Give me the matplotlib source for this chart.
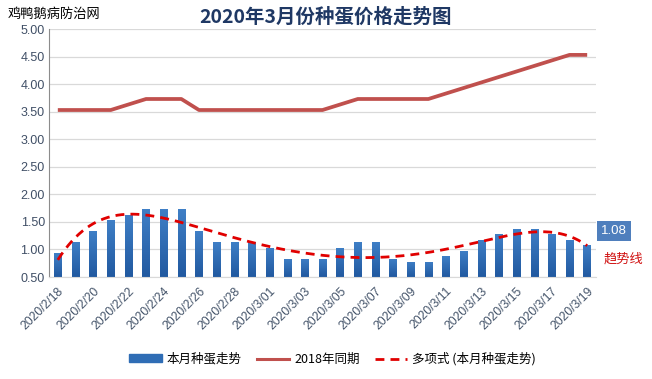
import numpy as np
import matplotlib
matplotlib.use("Agg")
import matplotlib.pyplot as plt
from matplotlib.lines import Line2D
from matplotlib.patches import Patch
from matplotlib.colors import LinearSegmentedColormap

plt.rcParams['font.family'] = ['Noto Sans CJK SC', 'DejaVu Sans']

dates = (["2020/2/%d" % d for d in range(18, 30)] +
         ["2020/3/%02d" % d for d in range(1, 20)])
tick_labels = dates

this_month = [0.93, 1.13, 1.33, 1.53, 1.63, 1.73, 1.73, 1.73, 1.33, 1.13,
              1.13, 1.13, 1.03, 0.83, 0.83, 0.83, 1.03, 1.13, 1.13, 0.83,
              0.78, 0.78, 0.88, 0.98, 1.18, 1.28, 1.38, 1.38, 1.28, 1.18, 1.08]
same_2018 = [3.53, 3.53, 3.53, 3.53, 3.63, 3.73, 3.73, 3.73, 3.53, 3.53,
             3.53, 3.53, 3.53, 3.53, 3.53, 3.53, 3.63, 3.73, 3.73, 3.73,
             3.73, 3.73, 3.83, 3.93, 4.03, 4.13, 4.23, 4.33, 4.43, 4.53, 4.53]

label_bar = "本月种蛋走势"
label_2018 = "2018年同期"
label_trend = "多项式 (本月种蛋走势)"

fig = plt.figure(figsize=(6.52, 3.79), dpi=100)
ax = fig.add_axes([49/652, 1-277/379, (596-49)/652, (277-29)/379])

x = np.arange(1, len(this_month) + 1)
bar_color = "#2f6db5"
bars = ax.bar(x, this_month, width=0.42, color=bar_color, zorder=2)

ax.set_xlim(0.5, len(this_month) + 0.5)
ax.set_ylim(0.5, 5.0)

cmap = LinearSegmentedColormap.from_list("bg", ["#2159a0", "#3f7fc6"])
grad = np.linspace(0, 1, 64).reshape(-1, 1)
for b in bars:
    x0, w, h = b.get_x(), b.get_width(), b.get_height()
    im = ax.imshow(grad, cmap=cmap, origin='lower', aspect='auto',
                   extent=(x0, x0 + w, 0.5, h), zorder=2.1, interpolation='bilinear')
    im.set_clip_path(b)
ax.set_xlim(0.5, len(this_month) + 0.5)
ax.set_ylim(0.5, 5.0)

ax.plot(x, same_2018, color="#c0504d", lw=2.7, zorder=3, solid_capstyle='butt')

coef = np.polyfit(x, this_month, 6)
xs = np.linspace(1, len(this_month), 300)
ax.plot(xs, np.polyval(coef, xs), color="#e00000", lw=2.0, ls=(0, (3.2, 2.2)), zorder=4)

ax.set_yticks(np.arange(0.5, 5.01, 0.5))
ax.set_yticklabels(["%.2f" % v for v in np.arange(0.5, 5.01, 0.5)],
                   fontsize=9, color="#404f66", family=['Liberation Sans', 'DejaVu Sans'])
ax.grid(axis='y', color="#d9d9d9", lw=0.9, zorder=0)
ax.set_axisbelow(True)
ax.set_xticks(x[::2])
ax.set_xticklabels(tick_labels[::2], rotation=45, ha='right', rotation_mode='anchor',
                   fontsize=8.7, color="#44546a", family=['Liberation Sans', 'DejaVu Sans'])
ax.tick_params(axis='both', length=0, pad=3)
ax.tick_params(axis='x', pad=6)
for s in ['top', 'right']:
    ax.spines[s].set_visible(False)
ax.spines['left'].set_color("#8c8c8c")
ax.spines['bottom'].set_color("#d9d9d9")

ax.annotate("%.2f" % this_month[-1], xy=(x[-1], this_month[-1]), xytext=(10, 10),
            textcoords='offset points', fontsize=9.5, color='white', va='center', ha='left',
            family=['Liberation Sans', 'DejaVu Sans'],
            bbox=dict(boxstyle='square,pad=0.32', fc="#4f7fbd", ec='none'), annotation_clip=False)
ax.annotate("趋势线", xy=(x[-1], this_month[-1]), xytext=(12, -10),
            textcoords='offset points', fontsize=9.5, color="#d01010", va='center', ha='left',
            annotation_clip=False)

fig.text(0.5, 1-17/379, "2020年3月份种蛋价格走势图", ha='center', va='center',
         fontsize=14, fontweight='bold', color="#1f3864")
fig.text(8/652, 1-14/379, "鸡鸭鹅病防治网", ha='left', va='center', fontsize=9.5, color='black')

handles = [Patch(color=bar_color),
           Line2D([], [], color="#c0504d", lw=2.2),
           Line2D([], [], color="#e00000", lw=2.0, ls=(0, (3.2, 2.2)))]
fig.legend(handles, [label_bar, label_2018, label_trend], loc='center',
           bbox_to_anchor=(0.51, 1-359/379), ncol=3, frameon=False, fontsize=9,
           handlelength=2.6, handleheight=0.6, columnspacing=1.2, handletextpad=0.4)

fig.savefig("out.png", dpi=100)
